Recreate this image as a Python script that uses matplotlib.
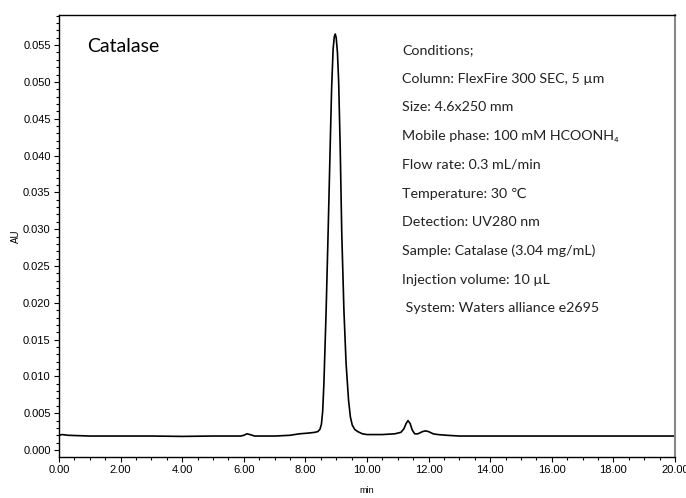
import matplotlib
matplotlib.use('Agg')
import matplotlib.pyplot as plt
from matplotlib.ticker import MultipleLocator, FormatStrFormatter

# retention time (min) and absorbance (AU)
time_min = [0.0, 0.1, 0.3, 1.0, 2.0, 3.0, 4.0, 5.0, 5.9, 6.0, 6.1, 6.2, 6.35, 7.0, 7.5,
            7.8, 8.1, 8.3, 8.4, 8.47, 8.52, 8.56, 8.6, 8.67, 8.74, 8.8, 8.85, 8.9, 8.94,
            8.97, 9.0, 9.04, 9.08, 9.13, 9.18, 9.25, 9.32, 9.4, 9.46, 9.52, 9.6,
            9.7, 9.85, 10.0, 10.5, 10.9, 11.1, 11.2, 11.27, 11.33, 11.4, 11.47, 11.55,
            11.65, 11.8, 11.9, 12.0, 12.15, 12.3, 12.6, 13.0, 14.0, 16.0, 18.0, 20.0]
absorbance = [0.0020, 0.0021, 0.0020, 0.0019, 0.0019, 0.0019, 0.00185, 0.0019, 0.0019,
              0.0020, 0.0022, 0.0021, 0.0019, 0.0019, 0.0020,
              0.0022, 0.0023, 0.0024, 0.0025, 0.0028, 0.0035, 0.0052, 0.0090, 0.0185,
              0.0300, 0.0405, 0.0490, 0.0545, 0.0562, 0.0565, 0.0560, 0.0540, 0.0500,
              0.0410, 0.0295, 0.0190, 0.0118, 0.0068, 0.0045, 0.0034, 0.0028,
              0.0025, 0.0022, 0.0021, 0.0021, 0.0022, 0.0024, 0.0029, 0.0036, 0.0040,
              0.0036, 0.0027, 0.0022, 0.0022, 0.0025, 0.0026, 0.0025, 0.0022, 0.0021,
              0.0020, 0.0019, 0.0019, 0.0019, 0.0019, 0.0019]

conditions = [
    "Conditions;",
    "Column: FlexFire 300 SEC, 5 \u00b5m",
    "Size: 4.6x250 mm",
    "Mobile phase: 100 mM HCOONH\u2084",
    "Flow rate: 0.3 mL/min",
    "Temperature: 30 \u2103",
    "Detection: UV280 nm",
    "Sample: Catalase (3.04 mg/mL)",
    "Injection volume: 10 \u00b5L",
    " System: Waters alliance e2695",
]

fig = plt.figure(figsize=(6.86, 4.98), dpi=100)
ax = fig.add_axes([0.086, 0.0823, 0.898, 0.8877])

ax.plot(time_min, absorbance, color='black', linewidth=1.2)

ax.set_xlim(0, 20)
ax.set_ylim(-0.00095, 0.0591)
ax.xaxis.set_major_locator(MultipleLocator(2))
ax.xaxis.set_minor_locator(MultipleLocator(0.5))
ax.yaxis.set_major_locator(MultipleLocator(0.005))
ax.yaxis.set_minor_locator(MultipleLocator(0.001))
ax.xaxis.set_major_formatter(FormatStrFormatter('%.2f'))
ax.yaxis.set_major_formatter(FormatStrFormatter('%.3f'))
ax.tick_params(which='both', direction='out', labelsize=8, width=0.8, pad=2.5)
ax.tick_params(which='major', length=3.5)
ax.tick_params(which='minor', length=2.5)
for lbl in ax.get_xticklabels() + ax.get_yticklabels():
    lbl.set_fontfamily('Liberation Sans')

for side in ['left', 'bottom', 'top']:
    ax.spines[side].set_linewidth(1.0)
ax.spines['right'].set_color('#888888')
ax.spines['right'].set_linewidth(1.5)

ax.set_ylabel('AU', fontsize=7, family='Liberation Sans')
ax.yaxis.set_label_coords(-0.062, 0.5)
ax.set_xlabel('min', fontsize=6.5, family='Liberation Sans')
ax.xaxis.set_label_coords(0.5, -0.066)

ax.text(0.045, 0.928, 'Catalase', transform=ax.transAxes, fontsize=14,
        family='Lato', va='center', ha='left')

for i, line in enumerate(conditions):
    fig.text(402 / 686, 1 - (50 + i * 28.7) / 498, line, fontsize=10.3,
             family=['Lato', 'DejaVu Sans'], color='#222222', va='center', ha='left')

fig.savefig('out.png', dpi=100)
